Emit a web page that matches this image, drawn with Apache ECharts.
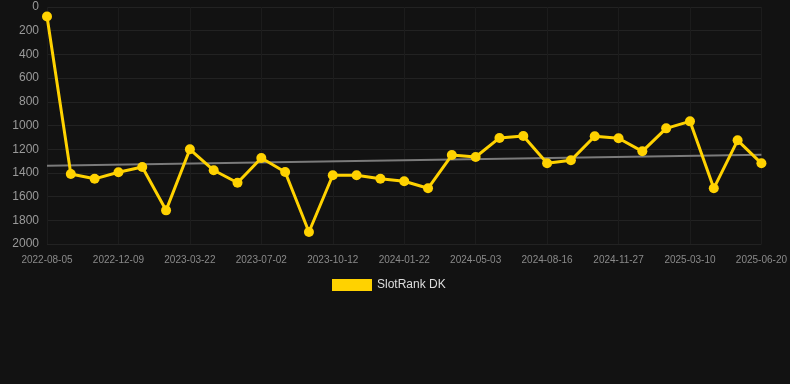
<!DOCTYPE html>
<html>
<head>
<meta charset="utf-8">
<script src="https://cdn.jsdelivr.net/npm/echarts@6/dist/echarts.min.js"></script>
<style>
  html, body { margin: 0; padding: 0; background: #121212; }
  #main { width: 790px; height: 384px; }
</style>
</head>
<body>
<div id="main"></div>
<script>
// dates on the x axis (every third one is labelled)
var dates = [
  '2022-08-05', '2022-09-16', '2022-10-28', '2022-12-09', '2023-01-13', '2023-02-17',
  '2023-03-22', '2023-04-26', '2023-05-29', '2023-07-02', '2023-08-07', '2023-09-08',
  '2023-10-12', '2023-11-14', '2023-12-18', '2024-01-22', '2024-02-26', '2024-03-29',
  '2024-05-03', '2024-06-06', '2024-07-11', '2024-08-16', '2024-09-19', '2024-10-23',
  '2024-11-27', '2024-12-30', '2025-02-03', '2025-03-10', '2025-04-14', '2025-05-17',
  '2025-06-20'
];
// rank values
var rank = [
  80, 1410, 1450, 1395, 1350, 1716, 1201, 1378, 1483, 1274, 1392, 1899,
  1420, 1420, 1449, 1471, 1530, 1249, 1266, 1105, 1089, 1319, 1294, 1091,
  1108, 1218, 1024, 965, 1530, 1125, 1319
];
// trend line end points (first and last date)
var trendEnds = [1340, 1246];

var trend = dates.map(function (d, i) {
  if (i == 0) return trendEnds[0];
  if (i == dates.length - 1) return trendEnds[1];
  return null;
});

var myChart = echarts.init(document.getElementById('main'));
myChart.setOption({
  backgroundColor: '#121212',
  animation: false,
  grid: {
    left: 47,
    right: 28,
    top: 7,
    bottom: 140
  },
  legend: {
    data: [{ name: 'SlotRank DK', icon: 'rect' }],
    top: 274,
    left: 327,
    itemWidth: 40,
    itemHeight: 12,
    itemGap: 6,
    textStyle: { color: '#dddddd', fontSize: 12 }
  },
  xAxis: {
    type: 'category',
    boundaryGap: false,
    data: dates,
    axisLine: { show: false },
    axisTick: { show: false },
    axisLabel: {
      interval: 2,
      color: '#8a8a8a',
      fontSize: 10,
      margin: 11
    },
    splitLine: {
      show: true,
      interval: 2,
      lineStyle: { color: '#1c1c1c' }
    }
  },
  yAxis: {
    type: 'value',
    inverse: true,
    min: 0,
    max: 2000,
    interval: 200,
    axisLine: { show: false },
    axisTick: { show: false },
    axisLabel: {
      color: '#9a9a9a',
      fontSize: 12,
      margin: 8,
      formatter: function (v) { return String(v); }
    },
    splitLine: {
      lineStyle: { color: '#222222' }
    }
  },
  series: [
    {
      name: 'trend',
      type: 'line',
      data: trend,
      connectNulls: true,
      symbol: 'none',
      lineStyle: { color: '#7a7a7a', width: 2 },
      z: 1
    },
    {
      name: 'SlotRank DK',
      type: 'line',
      data: rank,
      symbol: 'circle',
      symbolSize: 10,
      itemStyle: { color: '#ffd200' },
      lineStyle: { color: '#ffd200', width: 3 },
      z: 2
    }
  ]
});
</script>
</body>
</html>
